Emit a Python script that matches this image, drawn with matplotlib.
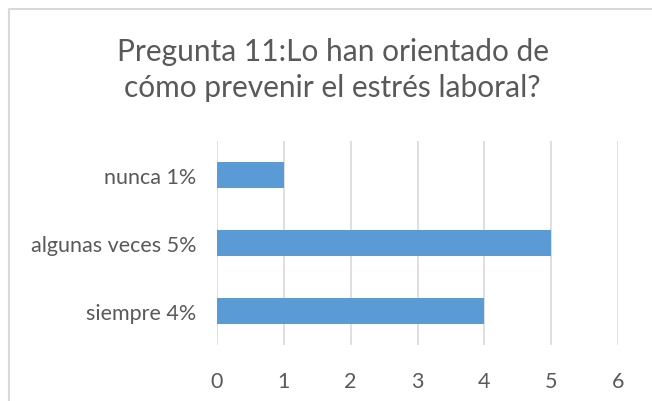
import matplotlib.pyplot as plt
from matplotlib.lines import Line2D

categories = ['siempre 4%', 'algunas veces 5%', 'nunca 1%']
values = [4, 5, 1]
x_ticks = [0, 1, 2, 3, 4, 5, 6]

plt.rcParams['font.family'] = ['Lato', 'DejaVu Sans']

fig = plt.figure(figsize=(6.52, 4.02), dpi=100)
ax = fig.add_axes([217 / 652, 1 - 346 / 402, 401 / 652, 204 / 402])

ax.barh(range(len(categories)), values, height=0.38, color='#5B9BD5', zorder=3)
ax.set_xlim(0, 6)
ax.set_ylim(-0.5, len(categories) - 0.5)
ax.set_xticks(x_ticks)
ax.set_yticks(range(len(categories)))
ax.set_yticklabels(categories)
ax.tick_params(axis='both', length=0, labelsize=15.5, colors='#595959')
ax.tick_params(axis='x', pad=19)
ax.tick_params(axis='y', pad=15)
ax.grid(axis='x', color='#D9D9D9', linewidth=1.2, zorder=0)
for s in ['top', 'right', 'bottom', 'left']:
    ax.spines[s].set_visible(False)

fig.text(0.51, 1 - 70 / 402, 'Pregunta 11:Lo han orientado de\ncómo prevenir el estrés laboral?',
         ha='center', va='center', fontsize=21.5, color='#595959', linespacing=1.38)

# chart border (only left and top edges visible in the crop)
fig.lines.append(Line2D([8.5 / 652, 8.5 / 652, 1], [0, 1 - 9.5 / 402, 1 - 9.5 / 402],
                        transform=fig.transFigure, color='#D9D9D9', linewidth=1.5))

fig.savefig('out.png', dpi=100)
